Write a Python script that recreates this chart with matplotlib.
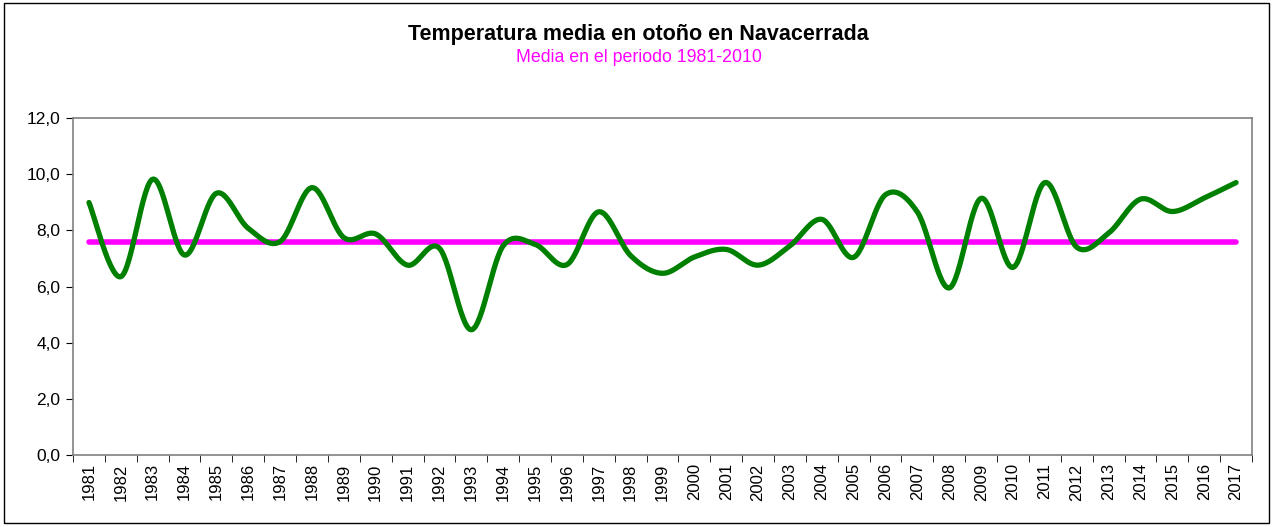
import numpy as np
import matplotlib
matplotlib.use("Agg")
import matplotlib.pyplot as plt
from matplotlib.patches import Rectangle

# --- Datos ---
years = list(range(1981, 2018))
temp_otono = [8.99, 6.35, 9.82, 7.12, 9.32, 8.07, 7.60, 9.52, 7.74, 7.87,
              6.76, 7.36, 4.46, 7.45, 7.50, 6.78, 8.66, 7.10, 6.47, 7.05,
              7.32, 6.76, 7.45, 8.39, 7.04, 9.27, 8.65, 5.95, 9.14, 6.68,
              9.70, 7.40, 7.90, 9.11, 8.67, 9.15, 9.70]
media_1981_2010 = [7.6] * len(years)
yticks = [0, 2, 4, 6, 8, 10, 12]


def smooth_excel(x, y, n=30):
    """Curva suavizada tipo Excel (Bezier / Catmull-Rom)."""
    x = np.asarray(x, float)
    y = np.asarray(y, float)
    xs, ys = [], []
    for i in range(len(x) - 1):
        x0, y0 = (x[i - 1], y[i - 1]) if i > 0 else (x[i], y[i])
        x3, y3 = (x[i + 2], y[i + 2]) if i + 2 < len(x) else (x[i + 1], y[i + 1])
        c1 = (x[i] + (x[i + 1] - x0) / 6, y[i] + (y[i + 1] - y0) / 6)
        c2 = (x[i + 1] - (x3 - x[i]) / 6, y[i + 1] - (y3 - y[i]) / 6)
        t = np.linspace(0, 1, n, endpoint=False)
        b = [(1 - t) ** 3, 3 * (1 - t) ** 2 * t, 3 * (1 - t) * t ** 2, t ** 3]
        xs.append(b[0] * x[i] + b[1] * c1[0] + b[2] * c2[0] + b[3] * x[i + 1])
        ys.append(b[0] * y[i] + b[1] * c1[1] + b[2] * c2[1] + b[3] * y[i + 1])
    xs.append([x[-1]])
    ys.append([y[-1]])
    return np.concatenate(xs), np.concatenate(ys)


plt.rcParams["font.family"] = ["Liberation Sans", "DejaVu Sans"]

fig = plt.figure(figsize=(12.77, 5.27), dpi=100, facecolor="white")
ax = fig.add_axes([0.0572, 0.1366, 0.9232, 0.6395])

pos = np.arange(len(years))
sx, sy = smooth_excel(pos, temp_otono)
ax.plot(sx, sy, color="#008000", lw=3.8, solid_capstyle="round", zorder=3)
ax.plot(pos, media_1981_2010, color="#FF00FF", lw=4.0, solid_capstyle="round", zorder=2)

ax.set_xlim(-0.5, len(years) - 0.5)
ax.set_ylim(0, 12)
ax.set_yticks(yticks)
ax.set_yticklabels([f"{v:.1f}".replace(".", ",") for v in yticks], fontsize=12.5)
ax.set_xticks(pos)
ax.set_xticklabels([str(y) for y in years], rotation=90, fontsize=12)
ax.set_xticks(np.arange(-0.5, len(years)), minor=True)
ax.tick_params(axis="x", which="major", length=0, pad=6)
ax.tick_params(axis="x", which="minor", length=5, color="black")
ax.tick_params(axis="y", length=5, color="black", pad=4)

for s in ["top", "right", "left", "bottom"]:
    ax.spines[s].set_color("#808080")
    ax.spines[s].set_linewidth(1.2)

fig.text(0.5, 0.935, "Temperatura media en otoño en Navacerrada",
         ha="center", va="center", fontsize=15.5, fontweight="bold", color="black")
fig.text(0.5, 0.89, "Media en el periodo 1981-2010",
         ha="center", va="center", fontsize=12.8, color="#FF00FF")

# Marco exterior del gráfico
fig.patches.append(Rectangle((0.0035, 0.008), 0.9905, 0.987, transform=fig.transFigure,
                             fill=False, edgecolor="black", lw=1.0))

fig.savefig("out.png", dpi=100, facecolor="white")
